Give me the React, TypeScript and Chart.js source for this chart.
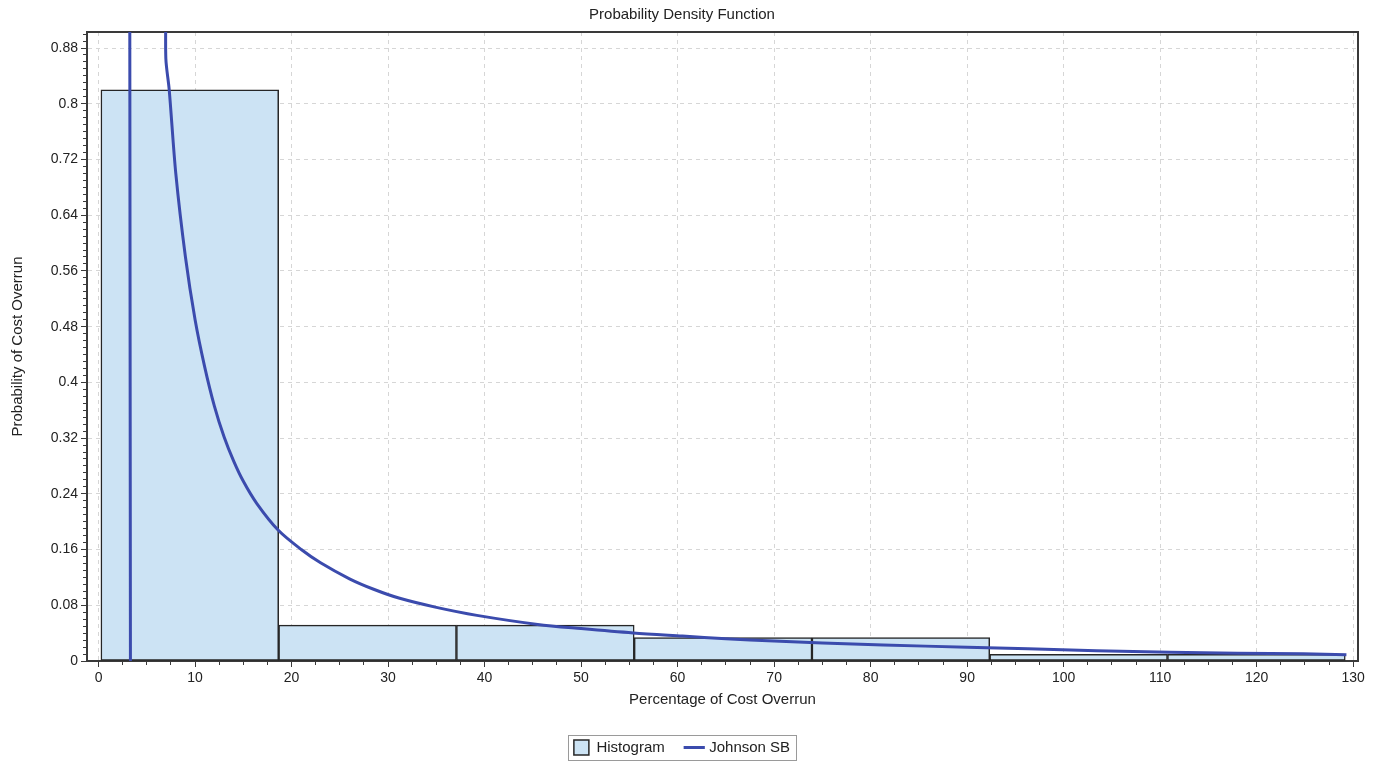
import { useEffect, useRef } from 'react';
import { Chart, registerables } from 'chart.js';

Chart.register(...registerables);

const chartTitle = 'Probability Density Function';
const xAxisTitle = 'Percentage of Cost Overrun';
const yAxisTitle = 'Probability of Cost Overrun';
const histogramLabel = 'Histogram';
const curveLabel = 'Johnson SB';

// histogram bins (edges) and bin probabilities
const binEdges = [0.24, 18.66, 37.08, 55.5, 73.92, 92.34, 110.76, 129.18];
const binProbabilities = [0.82, 0.0514, 0.0514, 0.0335, 0.0335, 0.0096, 0.0096];

// fitted Johnson SB density
const curveX = [3.3, 3.3, 6.97, 6.97, 7.32, 8.0, 9.0, 10.0, 11.0, 12.0, 13.0, 14.0, 15.0, 16.4, 18.6, 21.0, 23.0, 26.0, 28.5, 31.2, 35.0, 39.2, 45.5, 50.0, 55.4, 60.5, 65.0, 70.0, 75.0, 81.3, 90.0, 96.3, 103.4, 111.0, 118.0, 124.8, 129.3];
const curveY = [0, 5, 0.95, 0.865, 0.82, 0.7, 0.58, 0.49, 0.422, 0.366, 0.322, 0.287, 0.258, 0.226, 0.188, 0.16, 0.141, 0.118, 0.103, 0.09, 0.077, 0.0655, 0.0525, 0.0465, 0.0402, 0.0358, 0.032, 0.0287, 0.026, 0.023, 0.0198, 0.0175, 0.0148, 0.0126, 0.0113, 0.0104, 0.009];

// axis ranges and tick steps
const xMin = -1.2;
const xMax = 130.5;
const xMajorStep = 10;
const xMinorStep = 2.5;
const yMin = 0;
const yMax = 0.903;
const yMajorStep = 0.08;
const yMinorStep = 0.01;

const FONT = "'Liberation Sans', Arial, sans-serif";
const TEXT = '#222222';
const AXIS = '#3a3a3a';
const GRID = '#d6d6d6';
const BAR_FILL = '#cce3f4';
const BAR_EDGE = '#262626';
const CURVE = '#3b4bad';

const legendFrame = {
  id: 'legendFrame',
  afterDraw(chart: any) {
    const lg = chart.legend;
    const hb = lg && lg.legendHitBoxes;
    if (!hb || !hb.length) return;
    let l = Infinity, r = -Infinity, t = Infinity, b = -Infinity;
    hb.forEach((h: any) => {
      l = Math.min(l, h.left);
      r = Math.max(r, h.left + h.width);
      t = Math.min(t, h.top);
      b = Math.max(b, h.top + h.height);
    });
    const ctx = chart.ctx;
    ctx.save();
    ctx.strokeStyle = '#9a9a9a';
    ctx.lineWidth = 1;
    ctx.strokeRect(Math.round(l - 6) + 0.5, Math.round(t - 5) + 0.5, Math.round(r - l + 12), Math.round(b - t + 10));
    ctx.restore();
  },
};

export default function App() {
  const ref = useRef<HTMLCanvasElement | null>(null);

  useEffect(() => {
    if (!ref.current) return;
    Chart.defaults.font.family = FONT;
    Chart.defaults.color = TEXT;

    const histData = binProbabilities.map((p, i) => ({ x: (binEdges[i] + binEdges[i + 1]) / 2, y: p }));
    const curveData = curveX.map((x, i) => ({ x, y: curveY[i] }));

    const isMultiple = (v: number, step: number) => Math.abs(v / step - Math.round(v / step)) < 1e-6;

    const chart = new Chart(ref.current, {
      type: 'bar',
      data: {
        datasets: [
          {
            type: 'bar',
            label: histogramLabel,
            data: histData as any,
            xAxisID: 'xh',
            yAxisID: 'y',
            backgroundColor: BAR_FILL,
            borderColor: BAR_EDGE,
            borderWidth: 1.5,
            borderSkipped: false,
            barPercentage: 1,
            categoryPercentage: 1,
            grouped: false,
            pointStyle: 'rect',
            order: 1,
          } as any,
          {
            type: 'line',
            label: curveLabel,
            data: curveData as any,
            xAxisID: 'x',
            yAxisID: 'y',
            borderColor: CURVE,
            backgroundColor: CURVE,
            borderWidth: 3,
            pointRadius: 0,
            pointStyle: 'line',
            tension: 0.3,
            borderJoinStyle: 'round',
            fill: false,
            order: 0,
          } as any,
        ],
      },
      options: {
        animation: false,
        responsive: false,
        devicePixelRatio: 1,
        events: [],
        layout: { padding: { left: 0, right: 20, top: 0, bottom: 0 } },
        plugins: {
          tooltip: { enabled: false },
          title: {
            display: true,
            text: chartTitle,
            color: TEXT,
            font: { size: 15, weight: 'normal', family: FONT },
            padding: { top: 6, bottom: 8 },
          },
          legend: {
            display: true,
            position: 'bottom',
            labels: {
              usePointStyle: true,
              color: TEXT,
              font: { size: 15, family: FONT },
              padding: 22,
              sort: (a: any, b: any) => a.datasetIndex - b.datasetIndex,
            },
          },
        },
        scales: {
          x: {
            type: 'linear',
            position: 'bottom',
            offset: false,
            min: xMin,
            max: xMax,
            weight: 0,
            afterFit: (s: any) => { s.height = 57; },
            ticks: {
              stepSize: xMajorStep,
              includeBounds: false,
              autoSkip: false,
              maxRotation: 0,
              padding: 3,
              color: TEXT,
              font: { size: 14, family: FONT },
              callback: (v: any) => String(Math.round(Number(v))),
            },
            grid: {
              offset: false,
              color: GRID,
              lineWidth: 1,
              drawTicks: true,
              tickLength: 6,
              tickColor: AXIS,
              tickWidth: 1,
            },
            border: { display: true, color: AXIS, width: 2, dash: [4, 4] },
            title: {
              display: true,
              text: xAxisTitle,
              color: TEXT,
              font: { size: 15, family: FONT },
              padding: { top: 0, bottom: 9 },
            },
          },
          xMinor: {
            type: 'linear',
            axis: 'x',
            position: 'bottom',
            offset: false,
            min: xMin,
            max: xMax,
            weight: -1,
            afterFit: (s: any) => { s.height = 0; },
            ticks: { display: false, stepSize: xMinorStep, includeBounds: false, autoSkip: false },
            grid: { offset: false, drawOnChartArea: false, drawTicks: true, tickLength: 4, tickColor: AXIS, tickWidth: 1 },
            border: { display: false },
          },
          xh: {
            type: 'linear',
            axis: 'x',
            position: 'bottom',
            offset: false,
            display: false,
            min: xMin,
            max: xMax,
            ticks: { display: false },
            grid: { offset: false },
            afterBuildTicks: (s: any) => { s.ticks = []; },
          },
          xTop: {
            type: 'linear',
            axis: 'x',
            position: 'top',
            offset: false,
            min: xMin,
            max: xMax,
            ticks: { display: false },
            grid: { offset: false, display: false, drawTicks: false },
            border: { display: true, color: AXIS, width: 2 },
          },
          y: {
            type: 'linear',
            position: 'left',
            min: yMin,
            max: yMax,
            weight: 0,
            afterFit: (s: any) => { s.width = 87; },
            ticks: {
              stepSize: yMajorStep,
              includeBounds: false,
              autoSkip: false,
              padding: 3,
              color: TEXT,
              font: { size: 14, family: FONT },
              callback: (v: any) => String(Math.round(Number(v) * 100) / 100),
            },
            grid: {
              color: (ctx: any) => (ctx.tick && isMultiple(ctx.tick.value, yMajorStep) ? GRID : 'rgba(0,0,0,0)'),
              lineWidth: 1,
              drawTicks: true,
              tickLength: 6,
              tickColor: AXIS,
              tickWidth: 1,
            },
            border: { display: true, color: AXIS, width: 2, dash: [4, 4] },
            title: {
              display: true,
              text: yAxisTitle,
              color: TEXT,
              font: { size: 15, family: FONT },
              padding: { top: 9, bottom: 0 },
            },
          },
          yMinor: {
            type: 'linear',
            axis: 'y',
            position: 'left',
            min: yMin,
            max: yMax,
            weight: -1,
            afterFit: (s: any) => { s.width = 0; },
            ticks: { display: false, stepSize: yMinorStep, includeBounds: false, autoSkip: false },
            grid: { drawOnChartArea: false, drawTicks: true, tickLength: 4, tickColor: AXIS, tickWidth: 1 },
            border: { display: false },
          },
          yRight: {
            type: 'linear',
            axis: 'y',
            position: 'right',
            min: yMin,
            max: yMax,
            afterFit: (s: any) => { s.width = 6; },
            ticks: { display: false },
            grid: { display: false, drawTicks: false },
            border: { display: true, color: AXIS, width: 2 },
          },
        },
      } as any,
      plugins: [legendFrame],
    });

    return () => chart.destroy();
  }, []);

  return (
    <div style={{ position: 'fixed', left: 0, top: 0, width: 1384, height: 765, background: '#ffffff' }}>
      <canvas ref={ref} width={1384} height={765} style={{ display: 'block', width: 1384, height: 765 }} />
    </div>
  );
}
